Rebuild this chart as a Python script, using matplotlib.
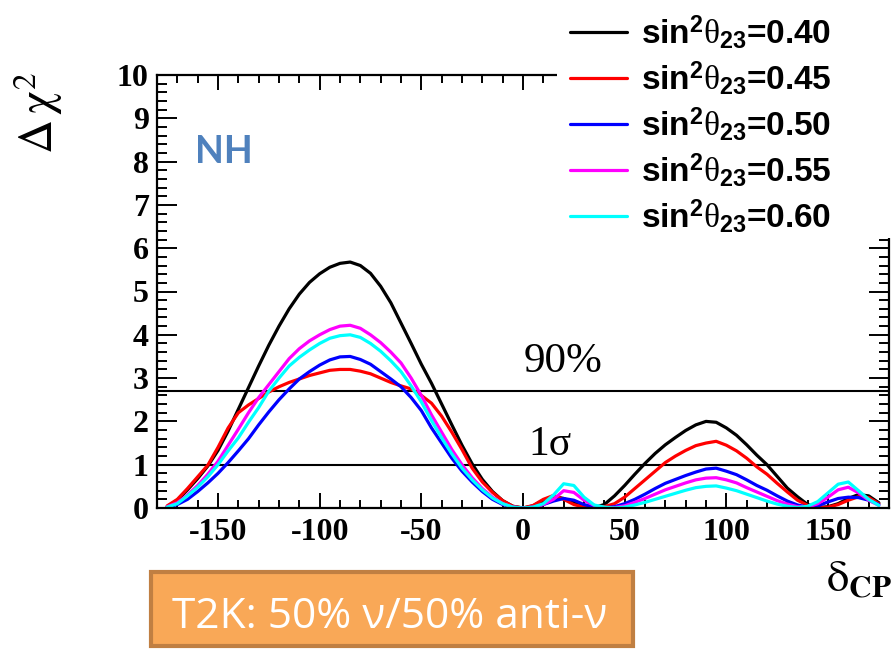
import matplotlib
matplotlib.use("Agg")
import matplotlib.pyplot as plt
from matplotlib.patches import Rectangle

plt.rcParams['mathtext.fontset'] = 'custom'
plt.rcParams['mathtext.rm'] = 'Liberation Sans:bold'
plt.rcParams['mathtext.bf'] = 'Liberation Sans:bold'
plt.rcParams['mathtext.it'] = 'Liberation Serif'
plt.rcParams['axes.unicode_minus'] = False

# ---------------- data ----------------
delta_cp = list(range(-175, 180, 5))

chi2_040 = [0.03, 0.18, 0.42, 0.68, 0.97, 1.33, 1.78, 2.28, 2.78, 3.28,
            3.76, 4.20, 4.60, 4.94, 5.21, 5.41, 5.56, 5.65, 5.68, 5.60,
            5.42, 5.12, 4.74, 4.27, 3.80, 3.32, 2.88, 2.40, 1.92, 1.45,
            1.02, 0.66, 0.38, 0.17, 0.04, 0.00, 0.05, 0.18, 0.27, 0.22,
            0.12, 0.03, 0.01, 0.08, 0.28, 0.52, 0.78, 1.03, 1.26, 1.46,
            1.63, 1.79, 1.92, 2.00, 1.98, 1.85, 1.68, 1.46, 1.22, 1.00,
            0.73, 0.46, 0.26, 0.08, 0.01, 0.03, 0.10, 0.22, 0.31, 0.28,
            0.12]

chi2_045 = [0.05, 0.20, 0.45, 0.72, 0.99, 1.40, 1.85, 2.20, 2.38, 2.53,
            2.68, 2.80, 2.90, 2.98, 3.06, 3.12, 3.18, 3.20, 3.20, 3.16,
            3.10, 3.00, 2.90, 2.82, 2.75, 2.60, 2.42, 2.12, 1.75, 1.35,
            0.92, 0.60, 0.36, 0.17, 0.04, 0.00, 0.06, 0.20, 0.29, 0.20,
            0.08, 0.02, 0.00, 0.03, 0.10, 0.25, 0.45, 0.65, 0.85, 1.05,
            1.20, 1.33, 1.44, 1.50, 1.54, 1.45, 1.32, 1.15, 0.95, 0.78,
            0.57, 0.37, 0.18, 0.06, 0.00, 0.02, 0.08, 0.18, 0.26, 0.24,
            0.10]

chi2_050 = [0.02, 0.08, 0.20, 0.38, 0.58, 0.80, 1.05, 1.32, 1.60, 1.92,
            2.22, 2.50, 2.75, 2.98, 3.15, 3.30, 3.42, 3.49, 3.50, 3.43,
            3.32, 3.15, 2.98, 2.80, 2.55, 2.25, 1.85, 1.50, 1.15, 0.85,
            0.60, 0.38, 0.20, 0.08, 0.02, 0.00, 0.02, 0.08, 0.16, 0.22,
            0.18, 0.08, 0.02, 0.00, 0.03, 0.10, 0.20, 0.32, 0.45, 0.57,
            0.66, 0.75, 0.83, 0.90, 0.92, 0.85, 0.77, 0.65, 0.52, 0.41,
            0.28, 0.16, 0.07, 0.02, 0.05, 0.14, 0.22, 0.25, 0.24, 0.18,
            0.08]

chi2_055 = [0.03, 0.12, 0.30, 0.52, 0.78, 1.08, 1.45, 1.82, 2.20, 2.55,
            2.85, 3.15, 3.45, 3.68, 3.86, 4.00, 4.12, 4.20, 4.22, 4.15,
            4.00, 3.82, 3.60, 3.35, 3.00, 2.60, 2.15, 1.75, 1.35, 1.00,
            0.70, 0.45, 0.25, 0.10, 0.02, 0.00, 0.02, 0.08, 0.20, 0.40,
            0.36, 0.18, 0.06, 0.01, 0.01, 0.05, 0.13, 0.22, 0.32, 0.42,
            0.50, 0.58, 0.65, 0.69, 0.70, 0.65, 0.58, 0.47, 0.37, 0.27,
            0.17, 0.09, 0.03, 0.02, 0.10, 0.25, 0.42, 0.48, 0.35, 0.18,
            0.06]

chi2_060 = [0.02, 0.10, 0.28, 0.48, 0.72, 1.00, 1.32, 1.62, 1.98, 2.32,
            2.70, 3.00, 3.28, 3.48, 3.65, 3.80, 3.92, 3.98, 4.00, 3.94,
            3.80, 3.62, 3.40, 3.15, 2.82, 2.45, 2.02, 1.62, 1.25, 0.92,
            0.65, 0.42, 0.23, 0.10, 0.02, 0.00, 0.02, 0.10, 0.30, 0.56,
            0.52, 0.25, 0.07, 0.02, 0.00, 0.02, 0.07, 0.13, 0.20, 0.27,
            0.34, 0.41, 0.47, 0.50, 0.51, 0.46, 0.40, 0.32, 0.24, 0.16,
            0.09, 0.04, 0.01, 0.04, 0.15, 0.35, 0.55, 0.60, 0.40, 0.20,
            0.06]

series = [chi2_040, chi2_045, chi2_050, chi2_055, chi2_060]
labels = [r'sin$^{2}\theta_{23}$=0.40', r'sin$^{2}\theta_{23}$=0.45',
          r'sin$^{2}\theta_{23}$=0.50', r'sin$^{2}\theta_{23}$=0.55',
          r'sin$^{2}\theta_{23}$=0.60']
colors = ['#000000', '#ff0000', '#0000ff', '#ff00ff', '#00ffff']

cl_levels = [2.71, 1.0]
cl_labels = ['90%', '1σ']
x_ticks = [-150, -100, -50, 0, 50, 100, 150]
y_ticks = list(range(0, 11))

# ---------------- figure ----------------
W, H = 893, 650
fig = plt.figure(figsize=(W / 100, H / 100), dpi=100)
fig.patch.set_facecolor('white')

def fx(px):
    return px / W

def fy(py):
    return 1 - py / H

ax = fig.add_axes([fx(157), fy(508), fx(889) - fx(157), fy(75) - fy(508)])
ax.set_xlim(-180, 180)
ax.set_ylim(0, 10)

for lvl in cl_levels:
    ax.axhline(lvl, color='black', lw=1.5, zorder=1)

lines = []
for ys, c, lab in zip(series, colors, labels):
    ln, = ax.plot(delta_cp, ys, color=c, lw=2.3, label=lab, zorder=2,
                  solid_joinstyle='round', solid_capstyle='round')
    lines.append(ln)

ax.text(0.5, 3.13, cl_labels[0], fontsize=31, family='Liberation Serif',
        ha='left', va='baseline')
ax.text(2.5, 1.22, cl_labels[1], fontsize=30, family='Liberation Serif',
        ha='left', va='baseline')

ax.text(0.052, 0.797, 'NH', transform=ax.transAxes, fontsize=27,
        fontweight='bold', family=['Lato', 'DejaVu Sans'], color='#4f81bd',
        ha='left', va='baseline')

ax.set_xticks(x_ticks)
ax.set_yticks(y_ticks)
ax.set_xticks(range(-180, 181, 10), minor=True)
ax.set_yticks([i * 0.2 for i in range(51)], minor=True)
ax.tick_params(which='both', direction='in', top=True, right=True, width=1.4,
               color='black')
ax.tick_params(axis='y', which='major', length=14.5, pad=6)
ax.tick_params(axis='y', which='minor', length=7.2)
ax.tick_params(axis='x', which='major', length=10.8, pad=7)
ax.tick_params(axis='x', which='minor', length=5.8)
for lab in ax.get_xticklabels() + ax.get_yticklabels():
    lab.set_fontfamily('Liberation Serif')
    lab.set_fontweight('bold')
    lab.set_fontsize(23)
for sp in ax.spines.values():
    sp.set_linewidth(1.6)

# y-axis title
fig.text(fx(38), fy(113), r'$\mathrm{\Delta}\,\mathrm{\chi}^{2}$', rotation=90,
         fontsize=34, math_fontfamily='stix', ha='center', va='center')
# x-axis title
fig.text(fx(892), fy(601), r'$\mathrm{\delta}_{\mathbf{CP}}$', fontsize=32,
         math_fontfamily='stix', ha='right', va='bottom')

# white legend background covering the frame corner
fig.patches.append(Rectangle((fx(557), fy(238)), 1.0, 1.0,
                             transform=fig.transFigure, facecolor='white',
                             edgecolor='none', zorder=3))
leg = fig.legend(handles=lines, labels=labels, loc='upper left',
                 bbox_to_anchor=(fx(570), fy(13)), frameon=False,
                 prop={'family': 'Liberation Sans', 'weight': 'bold', 'size': 24},
                 handlelength=1.72, handletextpad=0.4, labelspacing=0.245,
                 borderpad=0, borderaxespad=0)
leg.set_zorder(10)

# orange caption box
fig.patches.append(Rectangle((fx(151), fy(646)), fx(633) - fx(151), fy(572) - fy(646),
                             transform=fig.transFigure, facecolor='#f9a857',
                             edgecolor='#c07f42', linewidth=3, zorder=3))
fig.text(fx(172), fy(628), 'T2K: 50% ν/50% anti-ν', fontsize=30.5,
         family=['Open Sans', 'DejaVu Sans'], color='white', ha='left',
         va='baseline', zorder=11)

fig.savefig('out.png', dpi=100, facecolor='white')
